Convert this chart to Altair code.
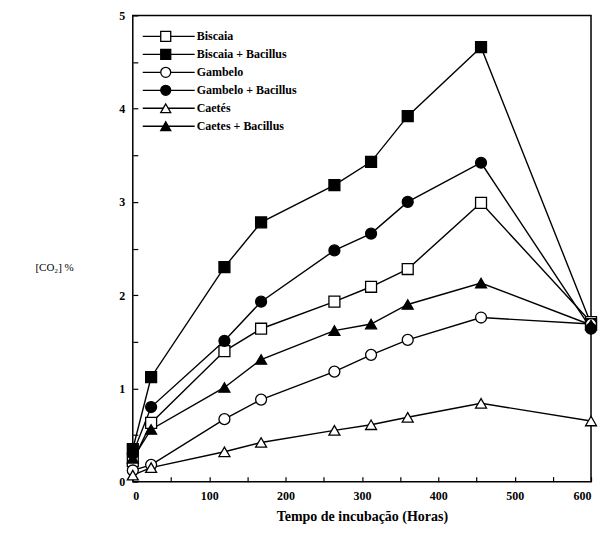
import altair as alt
import pandas as pd

times = [0, 24, 120, 168, 264, 312, 360, 456, 600]
series_names = ["Biscaia", "Biscaia + Bacillus", "Gambelo", "Gambelo + Bacillus", "Caetés", "Caetes + Bacillus"]
biscaia = [0.22, 0.63, 1.40, 1.64, 1.93, 2.09, 2.28, 2.99, 1.71]
biscaia_bac = [0.35, 1.12, 2.30, 2.78, 3.18, 3.43, 3.92, 4.66, 1.69]
gambelo = [0.12, 0.18, 0.67, 0.88, 1.18, 1.36, 1.52, 1.76, 1.69]
gambelo_bac = [0.30, 0.80, 1.51, 1.93, 2.48, 2.66, 3.00, 3.42, 1.64]
caetes = [0.07, 0.15, 0.32, 0.42, 0.55, 0.61, 0.69, 0.84, 0.65]
caetes_bac = [0.25, 0.56, 1.01, 1.31, 1.62, 1.69, 1.90, 2.13, 1.68]
shapes = ["square", "square", "circle", "circle", "triangle-up", "triangle-up"]
fills = ["white", "black", "white", "black", "white", "black"]
x_ticks = [0, 50, 100, 150, 200, 250, 300, 350, 400, 450, 500, 550, 600]
y_ticks = [0, 0.5, 1, 1.5, 2, 2.5, 3, 3.5, 4, 4.5, 5]

all_series = [biscaia, biscaia_bac, gambelo, gambelo_bac, caetes, caetes_bac]
rows = []
for name, vals in zip(series_names, all_series):
    for t, v in zip(times, vals):
        rows.append({"series": name, "time": t, "value": v})
df = pd.DataFrame(rows)
leg = pd.DataFrame({"series": series_names, "row": list(range(len(series_names)))})

FONT = "Liberation Serif"
shape_scale = alt.Scale(domain=series_names, range=shapes)
fill_scale = alt.Scale(domain=series_names, range=fills)

x = alt.X("time:Q", scale=alt.Scale(domain=[0, 600], nice=False),
          axis=alt.Axis(values=x_ticks, title="Tempo de incubação (Horas)",
                        labelExpr="datum.value % 100 == 0 ? format(datum.value, 'd') : ''",
                        grid=False, domain=False, offset=-5, tickSize=5,
                        labelPadding=9, titlePadding=8, titleFontSize=14))
y = alt.Y("value:Q", scale=alt.Scale(domain=[0, 5], nice=False),
          axis=alt.Axis(values=y_ticks, title="[CO₂] %",
                        labelExpr="datum.value % 1 == 0 ? format(datum.value, 'd') : ''",
                        grid=False, domain=False, offset=-5, tickSize=5,
                        labelPadding=8, titleAngle=0, titleAlign="left",
                        titleBaseline="middle", titleX=-103, titleY=253,
                        titleFontSize=11, titleFontWeight="normal"))

lines = alt.Chart(df).mark_line(color="black", strokeWidth=1.4).encode(
    x=x, y=y, detail="series:N")
points = alt.Chart(df).mark_point(filled=False, stroke="black", strokeWidth=1.3,
                                  opacity=1, size=120).encode(
    x=x, y=y,
    shape=alt.Shape("series:N", scale=shape_scale, legend=None),
    fill=alt.Fill("series:N", scale=fill_scale, legend=None))

ly = alt.Y("row:Q", scale=alt.Scale(domain=[0, 5], range=[21, 111]), axis=None)
leg_rule = alt.Chart(leg).mark_rule(color="black", strokeWidth=1.3).encode(
    x=alt.value(10), x2=alt.value(62), y=ly)
leg_pt = alt.Chart(leg).mark_point(filled=False, stroke="black", strokeWidth=1.3,
                                   opacity=1, size=100).encode(
    x=alt.value(33), y=ly,
    shape=alt.Shape("series:N", scale=shape_scale, legend=None),
    fill=alt.Fill("series:N", scale=fill_scale, legend=None))
leg_txt = alt.Chart(leg).mark_text(align="left", baseline="middle", font=FONT,
                                   fontSize=12, fontWeight="bold", dx=0).encode(
    x=alt.value(64), y=ly, text="series:N")

main = alt.layer(lines, points)
legend = alt.layer(leg_rule, leg_pt, leg_txt)

chart = alt.layer(main, legend).resolve_scale(y="independent").properties(
    width=459, height=467,
    autosize=alt.AutoSizeParams(type="none"),
    padding={"left": 125, "top": 7, "right": 8, "bottom": 45},
).configure_view(stroke="black", strokeWidth=1.5).configure_axis(
    labelFont=FONT, titleFont=FONT, labelFontSize=12, labelFontWeight="bold",
    titleFontWeight="bold", labelColor="black", titleColor="black",
    tickColor="black", tickWidth=1.2
)

chart.save("out.html", embed_options={"renderer": "svg", "actions": False})
